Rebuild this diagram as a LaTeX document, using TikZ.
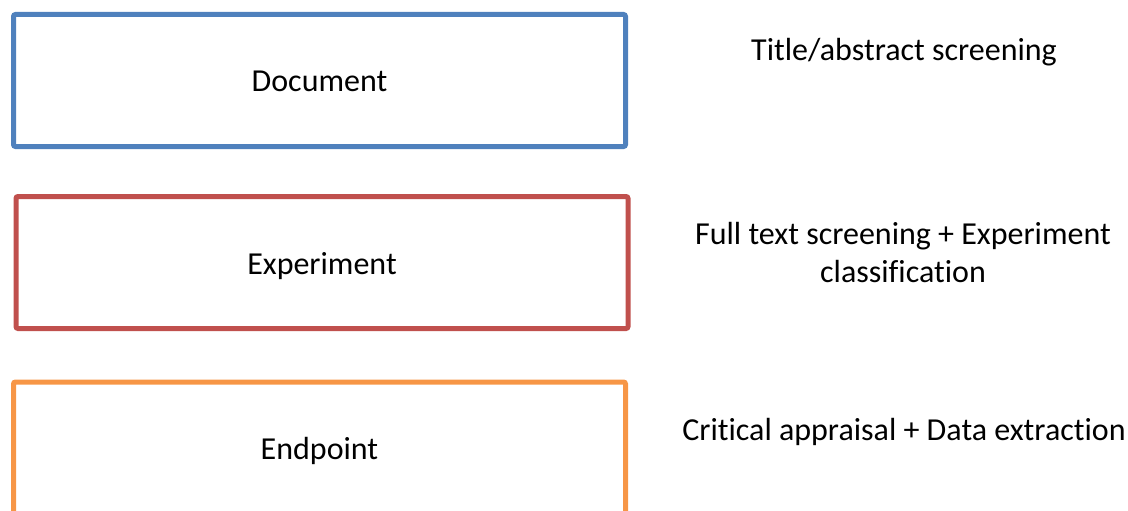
\documentclass[tikz,border=0pt]{standalone}
\usepackage{fontspec}
\setmainfont{Carlito}[Ligatures=NoCommon]
\usepackage{xcolor}
\usetikzlibrary{positioning}

\definecolor{docblue}{HTML}{4F81BD}
\definecolor{expred}{HTML}{C0504D}
\definecolor{endorange}{HTML}{F79646}

\tikzset{
    level/.style={draw, line width=5pt, rounded corners=2pt, minimum width=612pt, minimum height=132pt, text height=23pt, text depth=0pt, font=\fontsize{32}{38}\selectfont},
    stage/.style={align=center, font=\fontsize{32}{38}\selectfont}
}

\begin{document}
\begin{tikzpicture}[x=1pt, y=1pt]
        \useasboundingbox (0, 0) rectangle (1128, -511);
        \node[level, draw=docblue] (doc) at (319.5, -80.5) {Document};
        \node[level, draw=expred] (exp) at (322, -262.5) {Experiment};
        \node[level, draw=endorange] (endp) at (319.5, -448) {Endpoint};
        
        \node[stage] (title) at (904, -52) {Title/abstract screening};
        \node[stage] (full) at (903, -253) {Full text screening + Experiment\\classification};
        \node[stage] (crit) at (904, -432) {Critical appraisal + Data extraction};
    \end{tikzpicture}
\end{document}
